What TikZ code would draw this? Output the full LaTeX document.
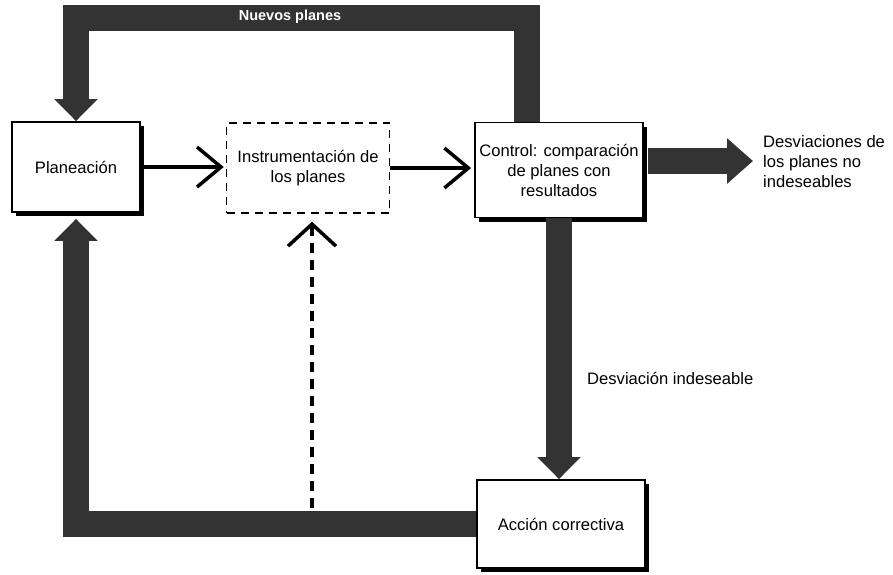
\documentclass[tikz,border=0pt]{standalone}
\usepackage{fontspec}
\setmainfont{Liberation Sans}
\usetikzlibrary{arrows.meta,shadows,calc}
\begin{document}
\begin{tikzpicture}[x=1pt,y=-1pt,
  txt/.style={font=\fontsize{16.6}{20}\selectfont, align=center, inner sep=0pt},
  stepbox/.style={txt, draw=black, line width=1.8pt, fill=white,
    minimum width=#1, drop shadow={shadow xshift=4pt, shadow yshift=-4pt, fill=black, opacity=1}},
  planbox/.style={txt, draw=black, line width=1.5pt, dash pattern=on 8pt off 6pt,
    minimum width=163pt, minimum height=90pt},
  bar/.style={line width=26pt, draw=black!80, line join=miter,
    -{Triangle[width=42pt,length=22pt]}},
  thinarrow/.style={line width=3.5pt, draw=black,
    -{Straight Barb[length=24pt,width=40pt,line width=3.5pt]}},
  dasharrow/.style={line width=4.5pt, draw=black, dash pattern=on 10pt off 7pt,
    -{Straight Barb[length=22pt,width=48pt,line width=3.5pt]}}
]
\useasboundingbox (0,0) rectangle (893,574);

% boxes of the control cycle
\node[stepbox=128pt, minimum height=90pt] (plan) at (76,167) {Planeación};
\node[planbox] (inst) at (308,168) {Instrumentación de\\los planes};
\node[stepbox=168pt, minimum height=95pt] (ctrl) at (559,170) {Control: comparación\\de planes con\\resultados};
\node[stepbox=168pt, minimum height=88pt] (acc) at (561,524) {Acción correctiva};

% outcome labels
\node[txt, align=left, anchor=west] (dev) at (763,162) {Desviaciones de\\los planes no\\indeseables};
\node[txt, anchor=west] (ind) at (587,378) {Desviación indeseable};

% feedback: new plans
\draw[bar] ([xshift=-32pt]ctrl.north) -- ++(0,-103.5) -| (plan.north);
\node[font=\fontsize{14.5}{17}\selectfont\bfseries, text=white, inner sep=0pt] (np) at (290,17) {Nuevos planes};

% undesirable deviation down to corrective action
\draw[bar] (ctrl.south) -- (ctrl.south |- acc.north);

% corrective action back to planning
\draw[bar] (acc.west) -| ([yshift=-6pt]plan.south);

% acceptable deviations leave the loop
\draw[bar, -{Triangle[width=44pt,length=26pt]}, shorten >=10pt]
  ([yshift=9pt,xshift=4pt]ctrl.east) -- ([yshift=9pt]ctrl.east -| dev.west);

% main flow
\draw[thinarrow, shorten >=2pt] (plan.east) -- (plan.east -| inst.west);
\draw[thinarrow, shorten >=3pt] (inst.east) -- (inst.east -| ctrl.west);

% corrective action on the implementation
\coordinate (fb) at (312,508);
\draw[dasharrow, shorten >=8pt] (fb) -- (fb |- inst.south);
\end{tikzpicture}
\end{document}
